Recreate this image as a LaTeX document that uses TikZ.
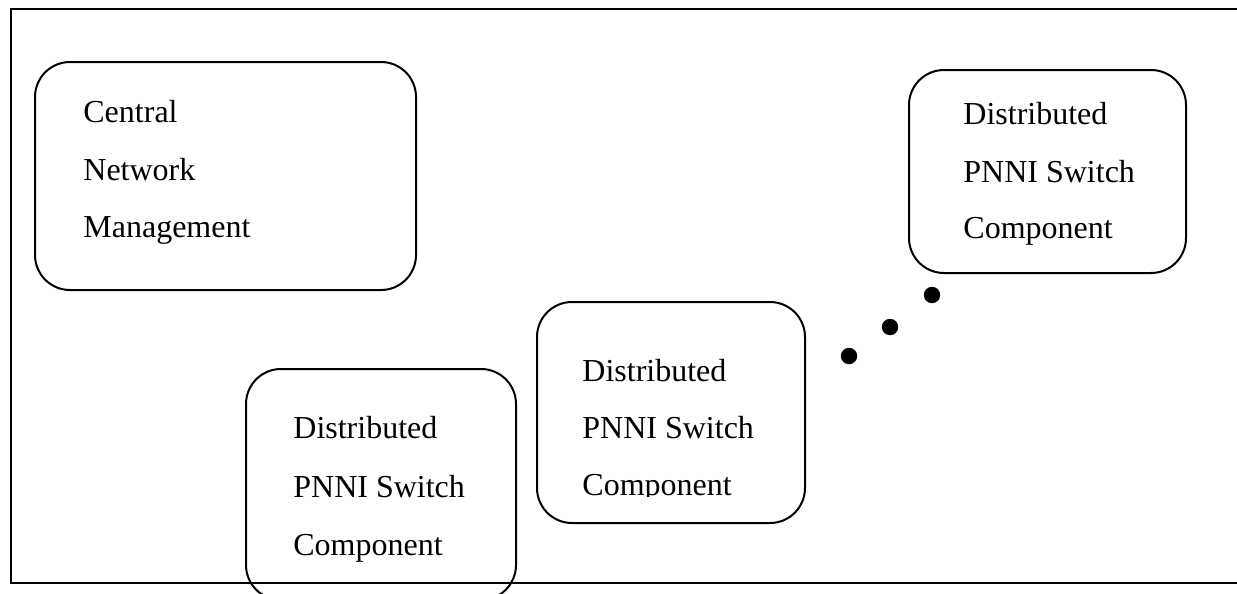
\documentclass[tikz,border=0pt]{standalone}
\usepackage{fontspec}
\setmainfont{Liberation Serif}
\begin{document}
\begin{tikzpicture}[x=0.5pt,y=-0.5pt,
  frame/.style={line width=1.3pt},
  rbox/.style={draw, line width=1pt, rounded corners=17.5pt, minimum width=#1, inner sep=0pt},
  lbl/.style={anchor=base west, inner sep=0pt, font=\fontsize{16}{19}\selectfont},
  dot/.style={circle, fill=black, inner sep=0pt, minimum size=8.2pt}]
\useasboundingbox (0,0) rectangle (1237,594);
\clip (0,0) rectangle (1237,594);
% outer frame (open on the right)
\coordinate (ftr) at (1240,9);
\coordinate (ftl) at (11,9);
\coordinate (fbl) at (11,583);
\coordinate (fbr) at (1240,583);
\draw[frame] (ftr) -- (ftl) -- (fbl) -- (fbr);
% boxes
\node[rbox=190.5pt, minimum height=114pt] (cnm) at (225.5,176) {};
\node[rbox=135pt, minimum height=115.5pt] (b2) at (381,484.5) {};
\node[rbox=134pt, minimum height=110.5pt] (b3) at (671,412.5) {};
\node[rbox=138.5pt, minimum height=101.5pt] (b4) at (1047.5,171.5) {};
% texts
\node[lbl] (t1a) at (83,122) {Central};
\node[lbl] (t1b) at (83,180) {Network};
\node[lbl] (t1c) at (83,237) {Management};
\node[lbl] (t2a) at (293,438) {Distributed};
\node[lbl] (t2b) at (293,497) {PNNI Switch};
\node[lbl] (t2c) at (293,555) {Component};
\node[lbl] (t3a) at (582,381) {Distributed};
\node[lbl] (t3b) at (582,438) {PNNI Switch};
\begin{scope}
\clip (540,300) rectangle (800,496);
\node[lbl] (t3c) at (582,495.5) {Component};
\end{scope}
\node[lbl] (t4a) at (963,124) {Distributed};
\node[lbl] (t4b) at (963,182) {PNNI Switch};
\node[lbl] (t4c) at (963,238) {Component};
% dots
\node[dot] (d1) at (932,295) {};
\node[dot] (d2) at (890,327) {};
\node[dot] (d3) at (849,356) {};
\end{tikzpicture}
\end{document}
